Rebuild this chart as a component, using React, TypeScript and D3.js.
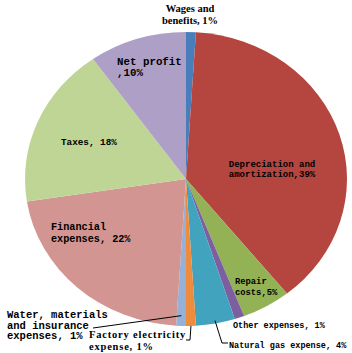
import * as d3 from "d3";

const categories = [
  "Wages and benefits",
  "Depreciation and amortization",
  "Repair costs",
  "Other expenses",
  "Natural gas expense",
  "Factory electricity expense",
  "Water, materials and insurance expenses",
  "Financial expenses",
  "Taxes",
  "Net profit",
];
const values = [1, 39, 5, 1, 4, 1, 1, 22, 18, 10];
const colors = [
  "#4a7ebb",
  "#b4463f",
  "#93b255",
  "#7d5fa0",
  "#41a3be",
  "#ee8b3d",
  "#95b1d8",
  "#d39592",
  "#bed596",
  "#ae9fc6",
];

// label lines and leader line ends, hand-placed like the original
type Label = {
  lines: string[];
  x: number;
  y: number;
  size: number;
  gap: number;
  anchor: "start" | "middle";
  serif?: boolean;
  spacing?: number;
  leader?: { r: number; pts: [number, number][] };
};

const labels: Label[] = [
  { lines: ["Wages and", "benefits, 1%"], x: 190, y: 12, size: 10.5, gap: 12, anchor: "middle", serif: true },
  { lines: ["Depreciation and", "amortization,39%"], x: 272, y: 167, size: 9, gap: 10, anchor: "middle" },
  { lines: ["Repair", "costs,5%"], x: 235, y: 284, size: 8.8, gap: 11, anchor: "start" },
  { lines: ["Other expenses, 1%"], x: 233, y: 328, size: 8.5, gap: 11, anchor: "start" },
  {
    lines: ["Natural gas expense, 4%"],
    x: 229,
    y: 348,
    size: 8.5,
    gap: 11,
    anchor: "start",
    leader: { r: 0.98, pts: [[222, 343], [228, 343]] },
  },
  {
    lines: ["Factory electricity", "expense, 1%"],
    x: 89,
    y: 338,
    size: 10.5,
    gap: 12,
    anchor: "start",
    serif: true,
    spacing: 0.8,
    leader: { r: 1.0, pts: [[190, 340], [186, 340]] },
  },
  {
    lines: ["Water, materials", "and insurance", "expenses, 1%"],
    x: 7,
    y: 318,
    size: 10.5,
    gap: 10.5,
    anchor: "start",
    leader: { r: 0.93, pts: [[93, 328]] },
  },
  { lines: ["Financial", "expenses, 22%"], x: 51, y: 230, size: 10.2, gap: 12, anchor: "start" },
  { lines: ["Taxes, 18%"], x: 61, y: 145, size: 9.3, gap: 11, anchor: "start" },
  { lines: ["Net profit", ",10%"], x: 117, y: 65, size: 10.8, gap: 11, anchor: "start" },
];

const width = 352;
const height = 353;
const cx = 186;
const cy = 179;
const rx = 161;
const ry = 147;

export default function App() {
  const pie = d3.pie<number>().value((d) => d).sort(null);
  const arcs = pie(values);
  const arc = d3.arc<d3.PieArcDatum<number>>().innerRadius(0).outerRadius(rx);

  const pointAt = (a: d3.PieArcDatum<number>, r: number): [number, number] => {
    const m = (a.startAngle + a.endAngle) / 2;
    return [cx + rx * r * Math.sin(m), cy - ry * r * Math.cos(m)];
  };

  return (
    <svg
      width={width}
      height={height}
      style={{ position: "absolute", left: 0, top: 0, background: "white" }}
    >
      <g transform={`translate(${cx},${cy}) scale(1,${ry / rx})`}>
        {arcs.map((a, i) => (
          <path key={categories[i]} d={arc(a) || undefined} fill={colors[i]} />
        ))}
      </g>
      {labels.map((lb, i) => {
        const leader = lb.leader;
        let linePts: [number, number][] = [];
        if (leader) linePts = [pointAt(arcs[i], leader.r), ...leader.pts];
        return (
          <g key={i}>
            {leader && (
              <path
                d={d3.line()(linePts) || undefined}
                fill="none"
                stroke="#000"
                strokeWidth={1}
              />
            )}
            <text
              x={lb.x}
              y={lb.y}
              textAnchor={lb.anchor}
              fontFamily={lb.serif ? "Liberation Serif, serif" : "Liberation Mono, monospace"}
              fontSize={lb.size}
              fontWeight="bold"
              letterSpacing={lb.spacing || 0}
              fill="#000"
            >
              {lb.lines.map((t, j) => (
                <tspan key={j} x={lb.x} dy={j === 0 ? 0 : lb.gap}>
                  {t}
                </tspan>
              ))}
            </text>
          </g>
        );
      })}
    </svg>
  );
}
